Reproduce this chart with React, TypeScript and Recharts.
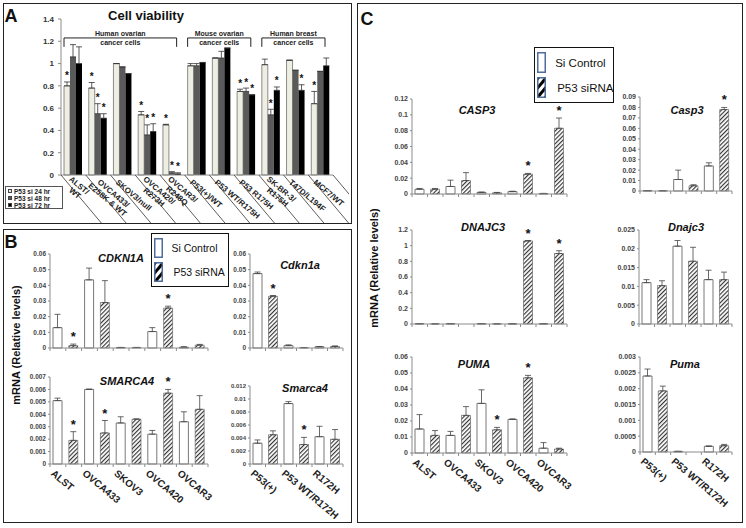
import React from "react";
import { BarChart, Bar, XAxis, YAxis, ErrorBar, LabelList, ReferenceArea } from "recharts";

const FONT = '"Liberation Sans", Arial, Helvetica, sans-serif';
const AXIS = "#8c8c8c";
const INK = "#222";

// ---- Panel A: cell viability (3 time points) ----
const viabilityNames = ["ALST/WT", "OVCA433/E258K & WT", "SKOV3/null", "OVCA420/R273H", "OVCAR3/R248Q", "P53(+)/WT", "P53 WT/R175H", "P53 R175H", "SK-BR-3/R175H", "T47D/L194F", "MCF7/WT"];
const viabilityLabels = [["ALST/", "WT"], ["OVCA433/", "E258K & WT"], ["SKOV3/null"], ["OVCA420/", "R273H"], ["OVCAR3/", "R248Q"], ["P53(+)/WT"], ["P53 WT/R175H"], ["P53 R175H"], ["SK-BR-3/", "R175H"], ["T47D/L194F"], ["MCF7/WT"]];
const si24 = [0.8, 0.78, 1.0, 0.54, 0.45, 0.98, 1.05, 0.75, 0.99, 1.03, 0.64];
const si24Err = [0.035, 0.05, 0, 0.03, 0.005, 0.02, 0, 0.02, 0.05, 0, 0.11];
const si24Star = ["*", "*", "", "*", "*", "", "", "*", "", "", "*"];
const si48 = [1.06, 0.55, 0.97, 0.36, 0.02, 0.98, 1.05, 0.75, 0.54, 0.94, 0.93];
const si48Err = [0.11, 0.09, 0, 0.09, 0.01, 0.02, 0.06, 0.03, 0.05, 0, 0];
const si48Star = ["", "*", "", "*", "*", "", "", "*", "*", "", ""];
const si72 = [1.0, 0.51, 0.91, 0.39, 0.01, 1.01, 1.14, 0.72, 0.76, 0.76, 0.98];
const si72Err = [0.15, 0.04, 0, 0.07, 0.01, 0, 0, 0, 0.03, 0.05, 0.07];
const si72Star = ["", "*", "", "*", "*", "", "", "*", "*", "*", ""];
const viabilityTicks = [0, 0.2, 0.4, 0.6, 0.8, 1, 1.2, 1.4];
const groupStarts = ["ALST/WT", "P53(+)/WT", "SK-BR-3/R175H"];
const groupEnds = ["OVCAR3/R248Q", "P53 R175H", "MCF7/WT"];
const groupTitles = [["Human ovarian", "cancer cells"], ["Mouse ovarian", "cancer cells"], ["Human breast", "cancer cells"]];
const timeLegend = ["P53 si 24 hr", "P53 si 48 hr", "P53 si 72 hr"];

// ---- Panels B and C: mRNA, Si Control vs P53 siRNA ----
const humanLines = ["ALST", "OVCA433", "SKOV3", "OVCA420", "OVCAR3"];
const mouseLines = ["P53(+)", "P53 WT/R172H", "R172H"];

const cdkn1aCtrl = [0.013, 0.0435, 0.0003, 0.0105, 0.0005];
const cdkn1aCtrlErr = [0.0085, 0.0075, 0.0001, 0.0025, 0.0003];
const cdkn1aSi = [0.0015, 0.029, 0.0003, 0.0255, 0.0018];
const cdkn1aSiErr = [0.001, 0.014, 0.0001, 0.0012, 0.0005];
const cdkn1aSiStar = ["*", "", "", "*", ""];

const smarca4Ctrl = [0.0051, 0.006, 0.0033, 0.0024, 0.0034];
const smarca4CtrlErr = [0.0002, 0.00003, 0.0005, 0.0003, 0.0008];
const smarca4Si = [0.0019, 0.0025, 0.0036, 0.0057, 0.0044];
const smarca4SiErr = [0.0007, 0.001, 0.00003, 0.0003, 0.0011];
const smarca4SiStar = ["*", "*", "", "*", ""];

const mCdkn1aCtrl = [0.0475, 0.0015, 0.0008];
const mCdkn1aCtrlErr = [0.001, 0.0005, 0.0001];
const mCdkn1aSi = [0.033, 0.0002, 0.001];
const mCdkn1aSiErr = [0.0005, 0.0001, 0.0003];
const mCdkn1aSiStar = ["*", "", ""];

const mSmarca4Ctrl = [0.0032, 0.0093, 0.0042];
const mSmarca4CtrlErr = [0.0005, 0.0003, 0.0016];
const mSmarca4Si = [0.0045, 0.003, 0.0038];
const mSmarca4SiErr = [0.0006, 0.0011, 0.0015];
const mSmarca4SiStar = ["", "*", ""];

const casp3Ctrl = [0.006, 0.0095, 0.002, 0.003, 0.0005];
const casp3CtrlErr = [0.001, 0.008, 0.0005, 0.0005, 0.0003];
const casp3Si = [0.006, 0.017, 0.0015, 0.025, 0.083];
const casp3SiErr = [0.001, 0.01, 0.0005, 0.001, 0.013];
const casp3SiStar = ["", "", "", "*", "*"];

const mCasp3Ctrl = [0.0003, 0.011, 0.024];
const mCasp3CtrlErr = [0.0001, 0.009, 0.003];
const mCasp3Si = [0.0002, 0.005, 0.078];
const mCasp3SiErr = [0.0001, 0.001, 0.002];
const mCasp3SiStar = ["", "", "*"];

const dnajc3Ctrl = [0.004, 0.004, 0.004, 0.003, 0.003];
const dnajc3CtrlErr = [0, 0, 0, 0, 0];
const dnajc3Si = [0.002, 0, 0.002, 1.06, 0.9];
const dnajc3SiErr = [0, 0, 0, 0.005, 0.035];
const dnajc3SiStar = ["", "", "", "*", "*"];

const mDnajc3Ctrl = [0.011, 0.0207, 0.0118];
const mDnajc3CtrlErr = [0.0008, 0.0015, 0.0025];
const mDnajc3Si = [0.0102, 0.0167, 0.0118];
const mDnajc3SiErr = [0.0013, 0.0037, 0.002];

const pumaCtrl = [0.015, 0.011, 0.031, 0.021, 0.003];
const pumaCtrlErr = [0.009, 0.0025, 0.0085, 0.0003, 0.0035];
const pumaSi = [0.011, 0.0235, 0.0145, 0.047, 0.0025];
const pumaSiErr = [0.003, 0.0055, 0.0015, 0.0015, 0.0005];
const pumaSiStar = ["", "", "*", "*", ""];

const mPumaCtrl = [0.0024, 0.00002, 0.00018];
const mPumaCtrlErr = [0.00022, 0, 0.00001];
const mPumaSi = [0.00193, 0, 0.0002];
const mPumaSiErr = [0.00015, 0, 0.00004];

const ticks006 = [0, 0.01, 0.02, 0.03, 0.04, 0.05, 0.06];
const ticks0007 = [0, 0.001, 0.002, 0.003, 0.004, 0.005, 0.006, 0.007];
const ticks0012 = [0, 0.002, 0.004, 0.006, 0.008, 0.01, 0.012];
const ticks012 = [0, 0.02, 0.04, 0.06, 0.08, 0.1, 0.12];
const ticks009 = [0, 0.01, 0.02, 0.03, 0.04, 0.05, 0.06, 0.07, 0.08, 0.09];
const ticks12 = [0, 0.2, 0.4, 0.6, 0.8, 1, 1.2];
const ticks0025 = [0, 0.005, 0.01, 0.015, 0.02, 0.025];
const ticks0003 = [0, 0.0005, 0.001, 0.0015, 0.002, 0.0025, 0.003];

// star above the error bar; the label value is the row index, offset scaled from the bar's own height
const starLabel = (vals: number[], errs: number[], stars: string[] | undefined, size: number) => (props: any) => {
  const i = Number(props.value);
  const s = stars ? stars[i] : "";
  if (!s) return null;
  const vb = props.viewBox && props.viewBox.width != null ? props.viewBox : props;
  const v = vals[i];
  const px = v > 0 ? vb.height / v : 0;
  const top = vb.y - errs[i] * px;
  return (
    <text x={vb.x + vb.width / 2} y={top - 0.15 * size - 1} textAnchor="middle" fontSize={size} fontWeight="bold" fontFamily={FONT} fill="#111">
      {s}
    </text>
  );
};

const geneTick = (band: number, n: number, labels: boolean) => (props: any) => {
  const { x, y, index, payload } = props;
  const bx = x - band / 2;
  return (
    <g>
      <line x1={bx} y1={y} x2={bx} y2={y + 3} stroke={AXIS} />
      <line x1={x} y1={y} x2={x} y2={y + 3} stroke={AXIS} />
      {index === n - 1 && <line x1={x + band / 2} y1={y} x2={x + band / 2} y2={y + 3} stroke={AXIS} />}
      {labels && (
        <text transform={`translate(${x - band / 4 - 3},${y + 5}) rotate(40)`} dominantBaseline="hanging" fontSize={10} fontWeight="bold" fontFamily={FONT} fill={INK}>
          {payload.value}
        </text>
      )}
    </g>
  );
};

const viabilityTick = (band: number, n: number, depth: number) => (props: any) => {
  const { x, y, index } = props;
  const lines = viabilityLabels[index] || [];
  const bx = x - band / 2;
  const run = depth * 0.84;
  const longest = Math.max(...lines.map((l) => l.length));
  return (
    <g>
      <line x1={bx} y1={y} x2={bx + run} y2={y + depth} stroke="#333" strokeWidth={0.8} />
      {index === n - 1 && <line x1={bx + band} y1={y} x2={bx + band + run} y2={y + depth} stroke="#333" strokeWidth={0.8} />}
      <g transform={`translate(${x - 4},${y + 4}) rotate(40)`}>
        {lines.map((l, j) => (
          <text key={j} x={((longest - l.length) * 4.8) / 2} y={(j - (lines.length - 1) / 2) * 8.5} dominantBaseline="hanging" fontSize={8} fontWeight="bold" fontFamily={FONT} fill={INK}>
            {l}
          </text>
        ))}
      </g>
    </g>
  );
};

const bracketShape = (lines: string[]) => (props: any) => {
  const { x, y, width, height } = props;
  const x1 = x + 3;
  const x2 = x + width - 8;
  const cx = (x1 + x2) / 2;
  return (
    <g>
      <path d={`M${x1},${y + height} V${y} H${x2} V${y + height}`} fill="none" stroke="#222" strokeWidth={1} />
      <text x={cx} y={y - 2} textAnchor="middle" fontSize={7} fontWeight="bold" fontFamily={FONT} fill={INK}>{lines[0]}</text>
      <text x={cx} y={y + 7.5} textAnchor="middle" fontSize={7} fontWeight="bold" fontFamily={FONT} fill={INK}>{lines[1]}</text>
    </g>
  );
};

function ViabilityChart() {
  const left = 61, right = 333, top = 19, zero = 175, yw = 40, padTop = 8, xh = 49, mr = 16;
  const n = viabilityNames.length;
  const band = (right - left) / n;
  const data = viabilityNames.map((name, i) => ({
    name, idx: i,
    h24: si24[i], e24: [0, si24Err[i]],
    h48: si48[i], e48: [0, si48Err[i]],
    h72: si72[i], e72: [0, si72Err[i]],
  }));
  return (
    <div style={{ position: "absolute", left: left - yw, top: top - padTop }}>
      <BarChart width={right - left + yw + mr} height={zero - top + padTop + xh} data={data} margin={{ top: padTop, right: mr, bottom: 0, left: 0 }} barSize={6} barGap={0}>
        <XAxis dataKey="name" interval={0} tickSize={0} tickMargin={0} tickLine={false} axisLine={{ stroke: AXIS }} height={xh} tick={viabilityTick(band, n, xh)} />
        <YAxis type="number" domain={[0, 1.4]} ticks={viabilityTicks} interval={0} width={yw} tickSize={3} tickMargin={4} axisLine={{ stroke: AXIS }} tickLine={{ stroke: AXIS }} tick={{ fontSize: 8, fontWeight: "bold", fill: "#333", fontFamily: FONT }} />
        {groupStarts.map((g, i) => (
          <ReferenceArea key={g} x1={g} x2={groupEnds[i]} y1={1.15} y2={1.23} ifOverflow="visible" shape={bracketShape(groupTitles[i])} />
        ))}
        <Bar dataKey="h24" fill="#efeee3" stroke="#444" strokeWidth={0.6} isAnimationActive={false}>
          <ErrorBar dataKey="e24" width={3} stroke="#333" strokeWidth={0.8} direction="y" />
          <LabelList dataKey="idx" content={starLabel(si24, si24Err, si24Star, 10)} />
        </Bar>
        <Bar dataKey="h48" fill="#5a5a5a" isAnimationActive={false}>
          <ErrorBar dataKey="e48" width={3} stroke="#333" strokeWidth={0.8} direction="y" />
          <LabelList dataKey="idx" content={starLabel(si48, si48Err, si48Star, 10)} />
        </Bar>
        <Bar dataKey="h72" fill="#000" isAnimationActive={false}>
          <ErrorBar dataKey="e72" width={3} stroke="#333" strokeWidth={0.8} direction="y" />
          <LabelList dataKey="idx" content={starLabel(si72, si72Err, si72Star, 10)} />
        </Bar>
      </BarChart>
    </div>
  );
}

type GeneProps = {
  left: number; right: number; top: number; zero: number;
  ticks: number[]; names: string[];
  ctrl: number[]; ctrlErr: number[];
  si: number[]; siErr: number[]; siStar?: string[];
  labels: boolean; yw?: number; tickFont?: number;
};

function GeneChart(p: GeneProps) {
  const yw = p.yw ?? 34;
  const padTop = 8;
  const xh = p.labels ? 64 : 6;
  const mr = p.labels ? 60 : 4;
  const n = p.names.length;
  const band = (p.right - p.left) / n;
  const half = band / 2;
  const barSize = Math.round(half * 0.58);
  const data = p.names.map((name, i) => ({
    name, idx: i,
    ctrl: p.ctrl[i], ctrlErr: [0, p.ctrlErr[i]],
    si: p.si[i], siErr: [0, p.siErr[i]],
  }));
  const max = p.ticks[p.ticks.length - 1];
  return (
    <div style={{ position: "absolute", left: p.left - yw, top: p.top - padTop }}>
      <BarChart width={p.right - p.left + yw + mr} height={p.zero - p.top + padTop + xh} data={data} margin={{ top: padTop, right: mr, bottom: 0, left: 0 }} barSize={barSize} barGap={half - barSize}>
        <XAxis dataKey="name" interval={0} tickSize={0} tickMargin={0} tickLine={false} axisLine={{ stroke: AXIS }} height={xh} tick={geneTick(band, n, p.labels)} />
        <YAxis type="number" domain={[0, max]} ticks={p.ticks} interval={0} width={yw} tickSize={2} tickMargin={2} axisLine={{ stroke: AXIS }} tickLine={{ stroke: AXIS }} tick={{ fontSize: p.tickFont ?? 7, fontWeight: "bold", fill: "#444", fontFamily: FONT }} />
        <Bar dataKey="ctrl" fill="#fff" stroke="#555" strokeWidth={0.8} isAnimationActive={false}>
          <ErrorBar dataKey="ctrlErr" width={3} stroke="#444" strokeWidth={0.8} direction="y" />
        </Bar>
        <Bar dataKey="si" fill="url(#hatch)" stroke="#555" strokeWidth={0.6} isAnimationActive={false}>
          <ErrorBar dataKey="siErr" width={3} stroke="#444" strokeWidth={0.8} direction="y" />
          <LabelList dataKey="idx" content={starLabel(p.si, p.siErr, p.siStar, 13)} />
        </Bar>
      </BarChart>
    </div>
  );
}

function Txt(props: { x: number; y: number; size: number; bold?: boolean; italic?: boolean; rotate?: number; children: React.ReactNode }) {
  return (
    <div
      style={{
        position: "absolute", left: props.x, top: props.y, whiteSpace: "nowrap", lineHeight: 1,
        fontSize: props.size, fontWeight: props.bold ? "bold" : "normal", fontStyle: props.italic ? "italic" : "normal",
        color: "#111", transform: `translate(-50%,-50%) rotate(${props.rotate ?? 0}deg)`,
      }}
    >
      {props.children}
    </div>
  );
}

function Box(props: { l: number; t: number; r: number; b: number; w?: number }) {
  return <div style={{ position: "absolute", left: props.l, top: props.t, width: props.r - props.l, height: props.b - props.t, border: `${props.w ?? 1.5}px solid #222`, boxSizing: "border-box" }} />;
}

function SiLegend(props: { l: number; t: number; w: number; h: number; size: number; icon: number }) {
  const names = ["Si Control", "P53 siRNA"];
  const iconH = (props.h - 14) / 2;
  return (
    <div style={{ position: "absolute", left: props.l, top: props.t, width: props.w, height: props.h, border: "1.5px solid #111", background: "#fff", boxSizing: "border-box" }}>
      {names.map((nm, i) => (
        <div key={nm} style={{ position: "absolute", left: 2, top: 4 + (i * (props.h - 6)) / 2, height: iconH, display: "flex", alignItems: "center", whiteSpace: "nowrap" }}>
          <svg width={props.icon} height={iconH} style={{ display: "block", flex: "none" }}>
            <rect x={0.75} y={0.75} width={props.icon - 1.5} height={iconH - 1.5} fill={i === 0 ? "#fff" : "url(#hatchBig)"} stroke="#4f6d9a" strokeWidth={1.5} />
          </svg>
          <span style={{ marginLeft: props.size * 0.8 + i * 2, fontSize: props.size, color: "#111" }}>{nm}</span>
        </div>
      ))}
    </div>
  );
}

export default function App() {
  const legendColors = ["#efeee3", "#5a5a5a", "#000"];
  return (
    <div style={{ position: "absolute", left: 0, top: 0, width: 746, height: 528, background: "#fff", overflow: "hidden", fontFamily: FONT }}>
      <svg width={0} height={0} style={{ position: "absolute" }}>
        <defs>
          <pattern id="hatch" patternUnits="userSpaceOnUse" width={3} height={3} patternTransform="rotate(45)">
            <rect width={3} height={3} fill="#fff" />
            <line x1={0.5} y1={0} x2={0.5} y2={3} stroke="#333" strokeWidth={1.3} />
          </pattern>
          <pattern id="hatchBig" patternUnits="userSpaceOnUse" width={6} height={6} patternTransform="rotate(40)">
            <rect width={6} height={6} fill="#fff" />
            <line x1={1.5} y1={0} x2={1.5} y2={6} stroke="#000" strokeWidth={3} />
          </pattern>
        </defs>
      </svg>

      {/* Panel A */}
      <ViabilityChart />
      <Box l={3} t={3} r={352} b={224} />
      <Txt x={11} y={16} size={18} bold>A</Txt>
      <Txt x={146} y={15} size={13} bold>Cell viability</Txt>
      <div style={{ position: "absolute", left: 5, top: 186, width: 58, height: 23, border: "1px solid #555", background: "#fff", boxSizing: "border-box", padding: "1px 2px" }}>
        {timeLegend.map((t, i) => (
          <div key={t} style={{ display: "flex", alignItems: "center", height: 6.8, fontSize: 6.5, fontWeight: "bold", color: "#222", whiteSpace: "nowrap" }}>
            <span style={{ width: 4, height: 4, background: legendColors[i], border: "0.5px solid #444", marginRight: 2, boxSizing: "border-box" }} />
            {t}
          </div>
        ))}
      </div>

      {/* Panel B */}
      <Box l={3} t={229} r={352} b={523} />
      <Txt x={11} y={242} size={18} bold>B</Txt>
      <Txt x={16} y={345} size={11} bold rotate={-90}>mRNA (Relative levels)</Txt>
      <GeneChart left={50} right={208} top={254} zero={348} ticks={ticks006} names={humanLines} ctrl={cdkn1aCtrl} ctrlErr={cdkn1aCtrlErr} si={cdkn1aSi} siErr={cdkn1aSiErr} siStar={cdkn1aSiStar} labels={false} tickFont={6.5} />
      <GeneChart left={50} right={208} top={377} zero={464} ticks={ticks0007} names={humanLines} ctrl={smarca4Ctrl} ctrlErr={smarca4CtrlErr} si={smarca4Si} siErr={smarca4SiErr} siStar={smarca4SiStar} labels tickFont={6.5} />
      <GeneChart left={250} right={343} top={254} zero={348} ticks={ticks006} names={mouseLines} ctrl={mCdkn1aCtrl} ctrlErr={mCdkn1aCtrlErr} si={mCdkn1aSi} siErr={mCdkn1aSiErr} siStar={mCdkn1aSiStar} labels={false} yw={22} tickFont={6.5} />
      <GeneChart left={250} right={343} top={386} zero={464} ticks={ticks0012} names={mouseLines} ctrl={mSmarca4Ctrl} ctrlErr={mSmarca4CtrlErr} si={mSmarca4Si} siErr={mSmarca4SiErr} siStar={mSmarca4SiStar} labels yw={24} tickFont={6} />
      <Txt x={121} y={258} size={11} bold italic>CDKN1A</Txt>
      <Txt x={127} y={381} size={11} bold italic>SMARCA4</Txt>
      <Txt x={300} y={265} size={11} bold italic>Cdkn1a</Txt>
      <Txt x={305} y={388} size={11} bold italic>Smarca4</Txt>
      <SiLegend l={151} t={233} w={78} h={54} size={10.5} icon={9} />

      {/* Panel C */}
      <Box l={357} t={3} r={743} b={523} />
      <Txt x={367} y={19} size={18} bold>C</Txt>
      <Txt x={374} y={268} size={11} bold rotate={-90}>mRNA (Relative levels)</Txt>
      <GeneChart left={412} right={567} top={99} zero={194} ticks={ticks012} names={humanLines} ctrl={casp3Ctrl} ctrlErr={casp3CtrlErr} si={casp3Si} siErr={casp3SiErr} siStar={casp3SiStar} labels={false} />
      <GeneChart left={640} right={732} top={97} zero={191} ticks={ticks009} names={mouseLines} ctrl={mCasp3Ctrl} ctrlErr={mCasp3CtrlErr} si={mCasp3Si} siErr={mCasp3SiErr} siStar={mCasp3SiStar} labels={false} />
      <GeneChart left={412} right={567} top={230} zero={324} ticks={ticks12} names={humanLines} ctrl={dnajc3Ctrl} ctrlErr={dnajc3CtrlErr} si={dnajc3Si} siErr={dnajc3SiErr} siStar={dnajc3SiStar} labels={false} />
      <GeneChart left={639} right={732} top={230} zero={324} ticks={ticks0025} names={mouseLines} ctrl={mDnajc3Ctrl} ctrlErr={mDnajc3CtrlErr} si={mDnajc3Si} siErr={mDnajc3SiErr} labels={false} />
      <GeneChart left={412} right={567} top={357} zero={453} ticks={ticks006} names={humanLines} ctrl={pumaCtrl} ctrlErr={pumaCtrlErr} si={pumaSi} siErr={pumaSiErr} siStar={pumaSiStar} labels />
      <GeneChart left={640} right={732} top={357} zero={452} ticks={ticks0003} names={mouseLines} ctrl={mPumaCtrl} ctrlErr={mPumaCtrlErr} si={mPumaSi} siErr={mPumaSiErr} labels />
      <Txt x={477} y={110} size={11} bold italic>CASP3</Txt>
      <Txt x={687} y={110} size={11} bold italic>Casp3</Txt>
      <Txt x={483} y={227} size={11} bold italic>DNAJC3</Txt>
      <Txt x={686} y={227} size={11} bold italic>Dnajc3</Txt>
      <Txt x={474} y={364} size={11} bold italic>PUMA</Txt>
      <Txt x={685} y={364} size={11} bold italic>Puma</Txt>
      <SiLegend l={534} t={47} w={80} h={56} size={11.5} icon={9} />
    </div>
  );
}
